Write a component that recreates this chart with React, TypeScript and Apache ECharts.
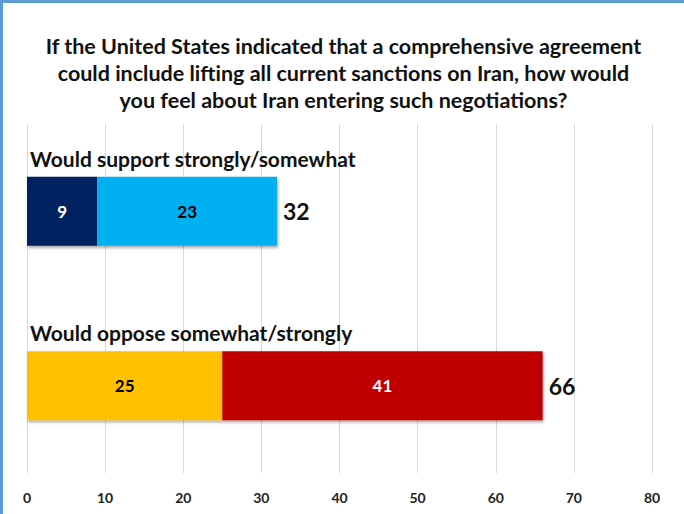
import React, { useEffect, useRef } from "react";
import * as echarts from "echarts";

const titleLines = [
  "If the United States indicated that a comprehensive agreement",
  "could include lifting all current sanctions on Iran, how would",
  "you feel about Iran entering such negotiations?",
];
const categories = ["Would support strongly/somewhat", "Would oppose somewhat/strongly"];
const strongPart = [9, 25];
const secondPart = [23, 41];
const totals = [32, 66];
const strongColors = ["#002060", "#FFC000"];
const secondColors = ["#00B0F0", "#C00000"];
const strongLabelColors = ["#ffffff", "#000000"];
const secondLabelColors = ["#000000", "#ffffff"];

const FONT = "Lato";

export default function App() {
  const ref = useRef<HTMLDivElement>(null);
  useEffect(() => {
    document.body.style.margin = "0";
    if (!ref.current) return;
    const chart = echarts.init(ref.current, null, { renderer: "svg" });
    const shadow = { shadowBlur: 3, shadowOffsetY: 2, shadowOffsetX: 1, shadowColor: "rgba(0,0,0,0.35)" };
    chart.setOption({
      animation: false,
      backgroundColor: "#ffffff",
      title: {
        text: titleLines.join("\n"),
        left: "center",
        top: 24,
        textStyle: { fontFamily: FONT, fontWeight: "bold", fontSize: 21.5, lineHeight: 27, color: "#111" },
      },
      grid: { left: 24, right: 32, top: 121, bottom: 41, containLabel: false },
      xAxis: {
        type: "value",
        min: 0,
        max: 80,
        interval: 10,
        axisLine: { show: false },
        axisTick: { show: false },
        splitLine: { show: true, lineStyle: { color: "#d9d9d9", width: 1 } },
        axisLabel: { margin: 17, fontFamily: FONT, fontWeight: "bold", fontSize: 14, color: "#222" },
      },
      yAxis: {
        type: "category",
        data: categories,
        inverse: true,
        axisLine: { show: false },
        axisTick: { show: false },
        axisLabel: { show: false },
      },
      series: [
        {
          type: "bar",
          stack: "t",
          barWidth: 69,
          data: strongPart.map((v, i) => ({
            value: v,
            itemStyle: { color: strongColors[i], ...shadow },
            label: { color: strongLabelColors[i] },
          })),
          label: { show: true, position: "inside", fontFamily: FONT, fontWeight: "bold", fontSize: 17 },
        },
        {
          type: "bar",
          stack: "t",
          barWidth: 69,
          data: secondPart.map((v, i) => ({
            value: v,
            itemStyle: { color: secondColors[i], ...shadow },
            label: { color: secondLabelColors[i] },
          })),
          label: { show: true, position: "inside", fontFamily: FONT, fontWeight: "bold", fontSize: 17 },
        },
        {
          type: "bar",
          stack: "t",
          barWidth: 69,
          data: totals.map(() => 0),
          itemStyle: { color: "transparent" },
          label: {
            show: true,
            position: "right",
            distance: 6,
            formatter: (p: any) => String(totals[p.dataIndex]),
            fontFamily: FONT,
            fontWeight: "bold",
            fontSize: 23,
            color: "#111",
          },
        },
        {
          type: "scatter",
          symbolSize: 0,
          silent: true,
          itemStyle: { opacity: 1 },
          data: categories.map((c) => [0, c]),
          label: {
            show: true,
            position: "right",
            distance: 3,
            offset: [0, -53],
            formatter: (p: any) => categories[p.dataIndex],
            fontFamily: FONT,
            fontWeight: "bold",
            fontSize: 21,
            color: "#111",
          },
        },
      ],
    });
    return () => chart.dispose();
  }, []);
  return (
    <div
      ref={ref}
      style={{
        width: 684,
        height: 514,
        boxSizing: "border-box",
        borderTop: "3px solid #5B9BD5",
        borderLeft: "3px solid #5B9BD5",
      }}
    />
  );
}
